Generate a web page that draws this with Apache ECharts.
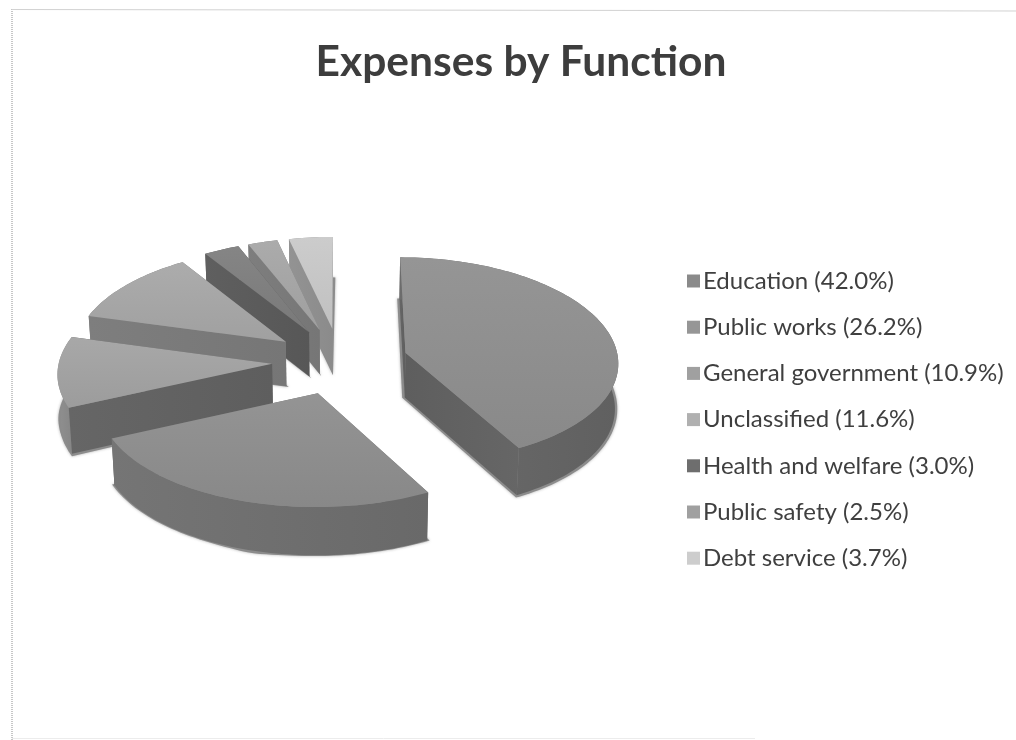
<!DOCTYPE html>
<html>
<head>
<meta charset="utf-8">
<title>Expenses by Function</title>
<script src="https://cdn.jsdelivr.net/npm/echarts@6/dist/echarts.min.js"></script>
<style>
  html, body { margin: 0; padding: 0; background: #fff; }
  #chart { width: 1016px; height: 740px; }
</style>
</head>
<body>
<div id="chart"></div>
<script>
// Share of total expenses per function, in percent.
const categories = ['Education', 'Public works', 'General government', 'Unclassified',
  'Health and welfare', 'Public safety', 'Debt service'];
const shares = [42.0, 26.2, 10.9, 11.6, 3.0, 2.5, 3.7];

// Greys for each slice: top face, radial walls, rim, legend swatch.
const topShades = ['#8f8f8f', '#8e8e8e', '#a2a2a2', '#a6a6a6', '#7f7f7f', '#a5a5a5', '#c6c6c6'];
const wallShades = ['#626262', '#6a6a6a', '#626262', '#7a7a7a', '#5b5b5b', '#7a7a7a', '#8f8f8f'];
const rimShades = ['#666666', '#6f6f6f', '#8a8a8a', '#7a7a7a', '#5b5b5b', '#7a7a7a', '#8f8f8f'];
const swatchShades = ['#8a8a8a', '#969696', '#a0a0a0', '#b0b0b0', '#6e6e6e', '#a0a0a0', '#cdcdcd'];

// Tilted-pie geometry.
const CENTER_X = 340, CENTER_Y = 361, RADIUS = 213, EXPLODE = 68;
const total = shares.reduce((a, b) => a + b, 0);

// Ground plane to screen, with mild perspective: nearer points spread wider.
function project(x, y) {
  const squash = 0.49 + (y > 0 ? 0.00013 : 0.00017) * y;
  return [CENTER_X + x * (1 + 0.00038 * y), CENTER_Y + y * squash];
}
const depthAt = y => 45 + 0.012 * y;

function sliceShape(startShare, share) {
  const a0 = startShare / total * 2 * Math.PI;
  const a1 = (startShare + share) / total * 2 * Math.PI;
  const mid = (a0 + a1) / 2;
  const ox = EXPLODE * Math.sin(mid), oy = -EXPLODE * Math.cos(mid);
  const steps = Math.max(6, Math.ceil((a1 - a0) * 40));
  const top = [], bottom = [];
  const push = (x, y) => {
    const p = project(x, y);
    top.push(p);
    // The base sits farther from the eye, so it pulls slightly toward the centre line.
    bottom.push([p[0] - 0.012 * (p[0] - CENTER_X), p[1] + depthAt(y)]);
  };
  push(ox, oy);
  for (let i = 0; i <= steps; i++) {
    const a = a0 + (a1 - a0) * i / steps;
    push(ox + RADIUS * Math.sin(a), oy - RADIUS * Math.cos(a));
  }
  return { top, bottom };
}

function linear(x2, y2, from, to) {
  return { type: 'linear', x: 0, y: 0, x2, y2, colorStops: [{ offset: 0, color: from }, { offset: 1, color: to }] };
}
function shift(hex, d) {
  const v = Math.max(0, Math.min(255, parseInt(hex.slice(1, 3), 16) + d)).toString(16).padStart(2, '0');
  return '#' + v + v + v;
}

function renderSlice(index, startShare) {
  return function (params, api) {
    const { top, bottom } = sliceShape(startShare, api.value(0));
    const n = top.length;
    const rim = top.slice(1).concat(bottom.slice(1).reverse());
    const startWall = [top[0], top[1], bottom[1], bottom[0]];
    const endWall = [top[0], top[n - 1], bottom[n - 1], bottom[0]];

    // Soft contact shadow: the base pushed a little outward from its centre.
    const cx = bottom.reduce((s, p) => s + p[0], 0) / n;
    const cy = bottom.reduce((s, p) => s + p[1], 0) / n;
    const outline = bottom.map(p => {
      const dx = p[0] - cx, dy = p[1] - cy, len = Math.hypot(dx, dy) || 1;
      return [p[0] + dx / len * 2.5, p[1] + dy / len * 2.5];
    });

    const poly = (points, fill, extra) => ({
      type: 'polygon', silent: true,
      shape: { points },
      style: Object.assign({ fill, stroke: null }, extra || {})
    });

    const walls = [
      { pts: startWall, fill: linear(1, 0, shift(wallShades[index], 4), shift(wallShades[index], -4)) },
      { pts: endWall, fill: linear(1, 0, shift(wallShades[index], -4), shift(wallShades[index], 4)) },
      { pts: rim, fill: linear(1, 0, shift(rimShades[index], 6), shift(rimShades[index], -6)) }
    ].map(w => ({ ...w, depth: w.pts.reduce((s, p) => s + p[1], 0) / w.pts.length }))
      .sort((a, b) => a.depth - b.depth)
      .map(w => poly(w.pts, w.fill));

    return {
      type: 'group',
      children: [
        poly(outline, '#8c8c8c', { shadowBlur: 3, shadowColor: 'rgba(120,120,120,0.6)' }),
        ...walls,
        poly(top, linear(0, 1, shift(topShades[index], 6), shift(topShades[index], -6)))
      ]
    };
  };
}

const legendLabels = categories.map((c, i) => c + ' (' + shares[i].toFixed(1) + '%)');

let running = 0;
const series = categories.map((c, i) => {
  const s = {
    type: 'custom',
    name: legendLabels[i],
    coordinateSystem: 'none',
    z: 10 + categories.length - i,
    itemStyle: { color: swatchShades[i] },
    data: [[shares[i]]],
    renderItem: renderSlice(i, running)
  };
  running += shares[i];
  return s;
});

const chart = echarts.init(document.getElementById('chart'), null, { renderer: 'canvas' });
chart.setOption({
  animation: false,
  backgroundColor: '#ffffff',
  title: {
    text: 'Expenses by Function',
    left: 516,
    top: 36,
    textAlign: 'center',
    textStyle: { fontFamily: 'Lato', fontWeight: 'bold', fontSize: 42.5, color: '#3d3d3d' }
  },
  legend: {
    orient: 'vertical',
    left: 682,
    top: 262,
    icon: 'rect',
    itemWidth: 13,
    itemHeight: 13,
    itemGap: 18.2,
    selectedMode: false,
    data: legendLabels,
    textStyle: { fontFamily: 'Lato', fontSize: 24, color: '#3f3f3f', padding: [0, 0, 0, -2], lineHeight: 28 }
  },
  // Page frame: faint rules along the top, left and bottom edges.
  graphic: [
    { type: 'line', silent: true, shape: { x1: 12, y1: 9, x2: 12, y2: 740 },
      style: { stroke: '#b4b4b4', lineWidth: 1.5, lineDash: [1, 1] } },
    { type: 'line', silent: true, shape: { x1: 12, y1: 9.5, x2: 1016, y2: 11 },
      style: { stroke: '#d2d2d2', lineWidth: 1 } },
    { type: 'line', silent: true, shape: { x1: 12, y1: 738.5, x2: 755, y2: 738.5 },
      style: { stroke: '#ececec', lineWidth: 1 } }
  ],
  series
});
</script>
</body>
</html>
